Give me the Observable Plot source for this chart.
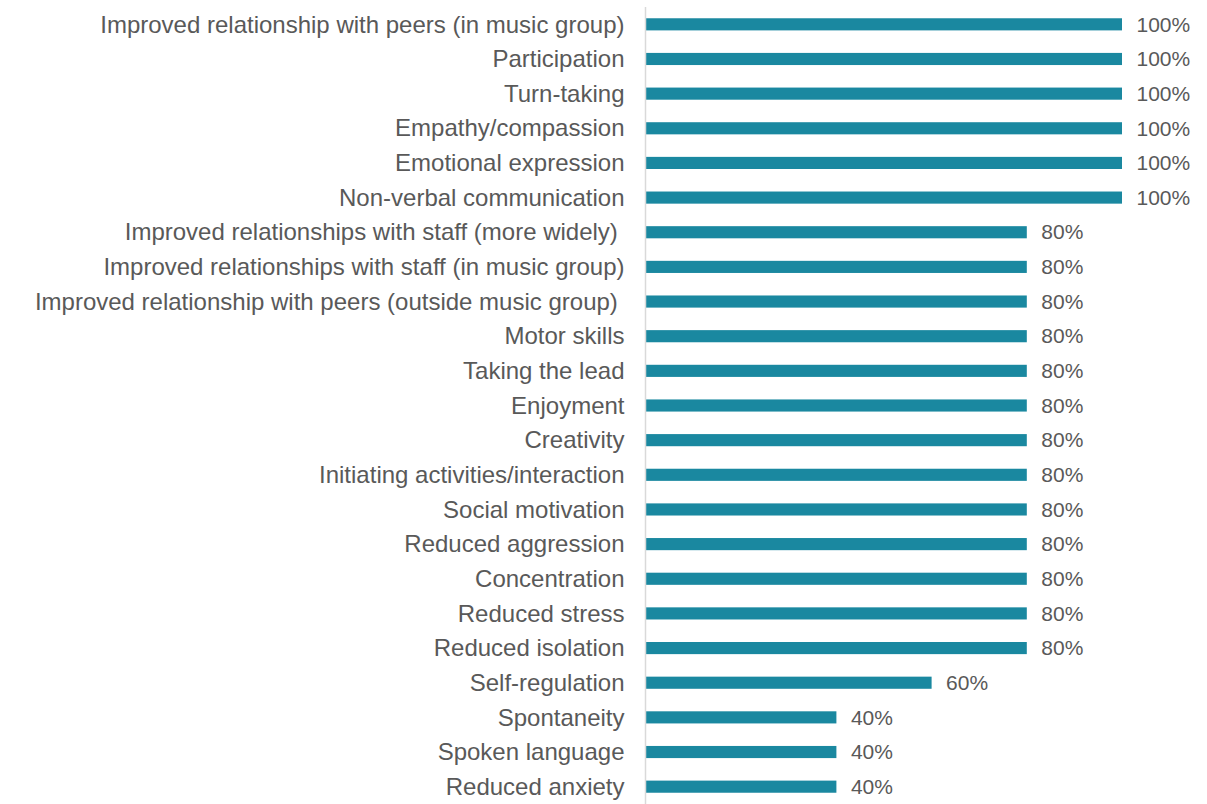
<!DOCTYPE html>
<html><head><meta charset="utf-8">
<script src="https://cdn.jsdelivr.net/npm/d3@7"></script>
<script src="https://cdn.jsdelivr.net/npm/@observablehq/plot@0.6"></script>
<style>body{margin:0;background:#fff;}</style>
</head><body><div id="chart"></div>
<script>
const categories = [
  "Improved relationship with peers (in music group)",
  "Participation",
  "Turn-taking",
  "Empathy/compassion",
  "Emotional expression",
  "Non-verbal communication",
  "Improved relationships with staff (more widely)\u00a0",
  "Improved relationships with staff (in music group)",
  "Improved relationship with peers (outside music group)\u00a0",
  "Motor skills",
  "Taking the lead",
  "Enjoyment",
  "Creativity",
  "Initiating activities/interaction",
  "Social motivation",
  "Reduced aggression",
  "Concentration",
  "Reduced stress",
  "Reduced isolation",
  "Self-regulation",
  "Spontaneity",
  "Spoken language",
  "Reduced anxiety"
];
const values = [100,100,100,100,100,100,80,80,80,80,80,80,80,80,80,80,80,80,80,60,40,40,40];
const data = categories.map((c, i) => ({category: c, value: values[i]}));

const chart = Plot.plot({
  width: 1207, height: 804,
  marginLeft: 646, marginRight: 85, marginTop: 7, marginBottom: 0,
  style: {fontFamily: "'Liberation Sans', Arial, sans-serif", background: "#fff"},
  x: {domain: [0, 100], axis: null},
  y: {domain: categories, paddingInner: 0.65, paddingOuter: 0.325, round: false, axis: null},
  marks: [
    Plot.barX(data, {x: "value", y: "category", fill: "#1a88a0"}),
    Plot.ruleX([0], {stroke: "#d9d9d9", strokeWidth: 1.5, dx: -1}),
    Plot.text(data, {x: 0, y: "category", text: "category", textAnchor: "end", dx: -22, fontSize: 24, fill: "#595959"}),
    Plot.text(data, {x: "value", y: "category", text: d => d.value + "%", textAnchor: "start", dx: 14, fontSize: 21, fill: "#595959"})
  ]
});
document.getElementById("chart").appendChild(chart);
</script>
</body></html>
